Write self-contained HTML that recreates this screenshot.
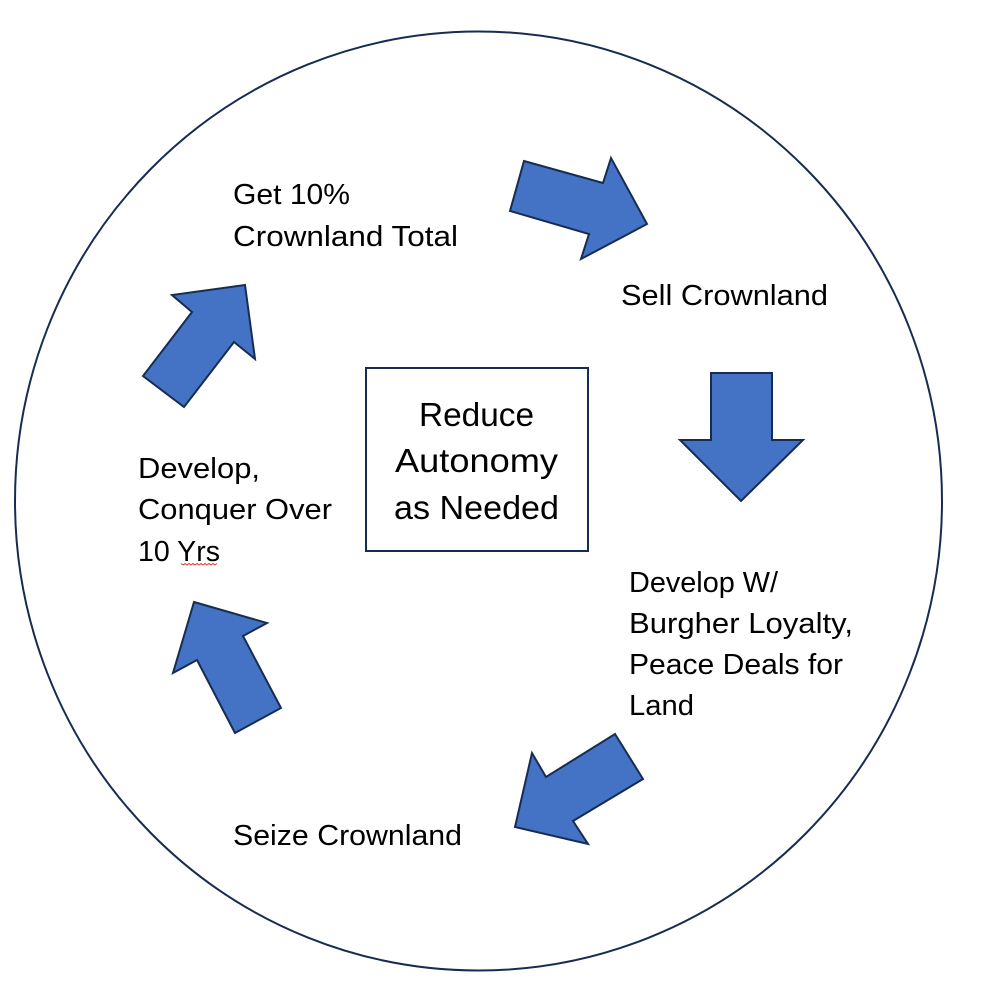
<!DOCTYPE html>
<html>
<head>
<meta charset="utf-8">
<style>
html,body{margin:0;padding:0;background:#fff;width:993px;height:998px;overflow:hidden}
svg{display:block}
text{font-family:"Liberation Sans",sans-serif;font-size:29px;fill:#000}
.b{font-size:33.5px}
polygon{fill:#4472c4;stroke:#172c51;stroke-width:2;stroke-linejoin:miter}
</style>
</head>
<body>
<svg width="993" height="998" viewBox="0 0 993 998" xmlns="http://www.w3.org/2000/svg">
<rect width="993" height="998" fill="#fff"/>
<ellipse cx="478.5" cy="501" rx="463.5" ry="469.5" fill="#fff" stroke="#172c51" stroke-width="2"/>
<rect x="366" y="368" width="222" height="183" fill="#fff" stroke="#172c51" stroke-width="2"/>

<polygon points="524,161 603,183 611,158 647,224 581,259 589,234 510,211"/>
<polygon points="711,373 772,373 772,440 803,440 741,501 680,440 711,440"/>
<polygon points="615,734 643,779 573,821 588,844 515,827 532,753 546,777"/>
<polygon points="194,602 267,623 243,636 281,708 235,733 197,660 173,673"/>
<polygon points="245,285 255,359 234,342 184,407 143,376 192,312 172,295"/>

<text x="233" y="204" textLength="117" lengthAdjust="spacingAndGlyphs">Get 10%</text>
<text x="233" y="246" textLength="225" lengthAdjust="spacingAndGlyphs">Crownland Total</text>
<text x="621" y="305" textLength="207" lengthAdjust="spacingAndGlyphs">Sell Crownland</text>

<text class="b" x="419" y="426" textLength="115" lengthAdjust="spacingAndGlyphs">Reduce</text>
<text class="b" x="395" y="472" textLength="163" lengthAdjust="spacingAndGlyphs">Autonomy</text>
<text class="b" x="394" y="519" textLength="165" lengthAdjust="spacingAndGlyphs">as Needed</text>

<text x="629" y="592" textLength="149" lengthAdjust="spacingAndGlyphs">Develop W/</text>
<text x="629" y="633" textLength="224" lengthAdjust="spacingAndGlyphs">Burgher Loyalty,</text>
<text x="629" y="674" textLength="214" lengthAdjust="spacingAndGlyphs">Peace Deals for</text>
<text x="629" y="715" textLength="65" lengthAdjust="spacingAndGlyphs">Land</text>

<text x="233" y="845" textLength="229" lengthAdjust="spacingAndGlyphs">Seize Crownland</text>

<text x="138" y="478" textLength="122" lengthAdjust="spacingAndGlyphs">Develop,</text>
<text x="138" y="519" textLength="194" lengthAdjust="spacingAndGlyphs">Conquer Over</text>
<text x="138" y="561" textLength="82" lengthAdjust="spacingAndGlyphs">10 Yrs</text>
<path d="M181 563.5 l2 1.5 2-1.5 2 1.5 2-1.5 2 1.5 2-1.5 2 1.5 2-1.5 2 1.5 2-1.5 2 1.5 2-1.5 2 1.5 2-1.5 2 1.5 2-1.5 2 1.5 2-1.5" fill="none" stroke="#d04040" stroke-width="1"/>
</svg>
</body>
</html>
